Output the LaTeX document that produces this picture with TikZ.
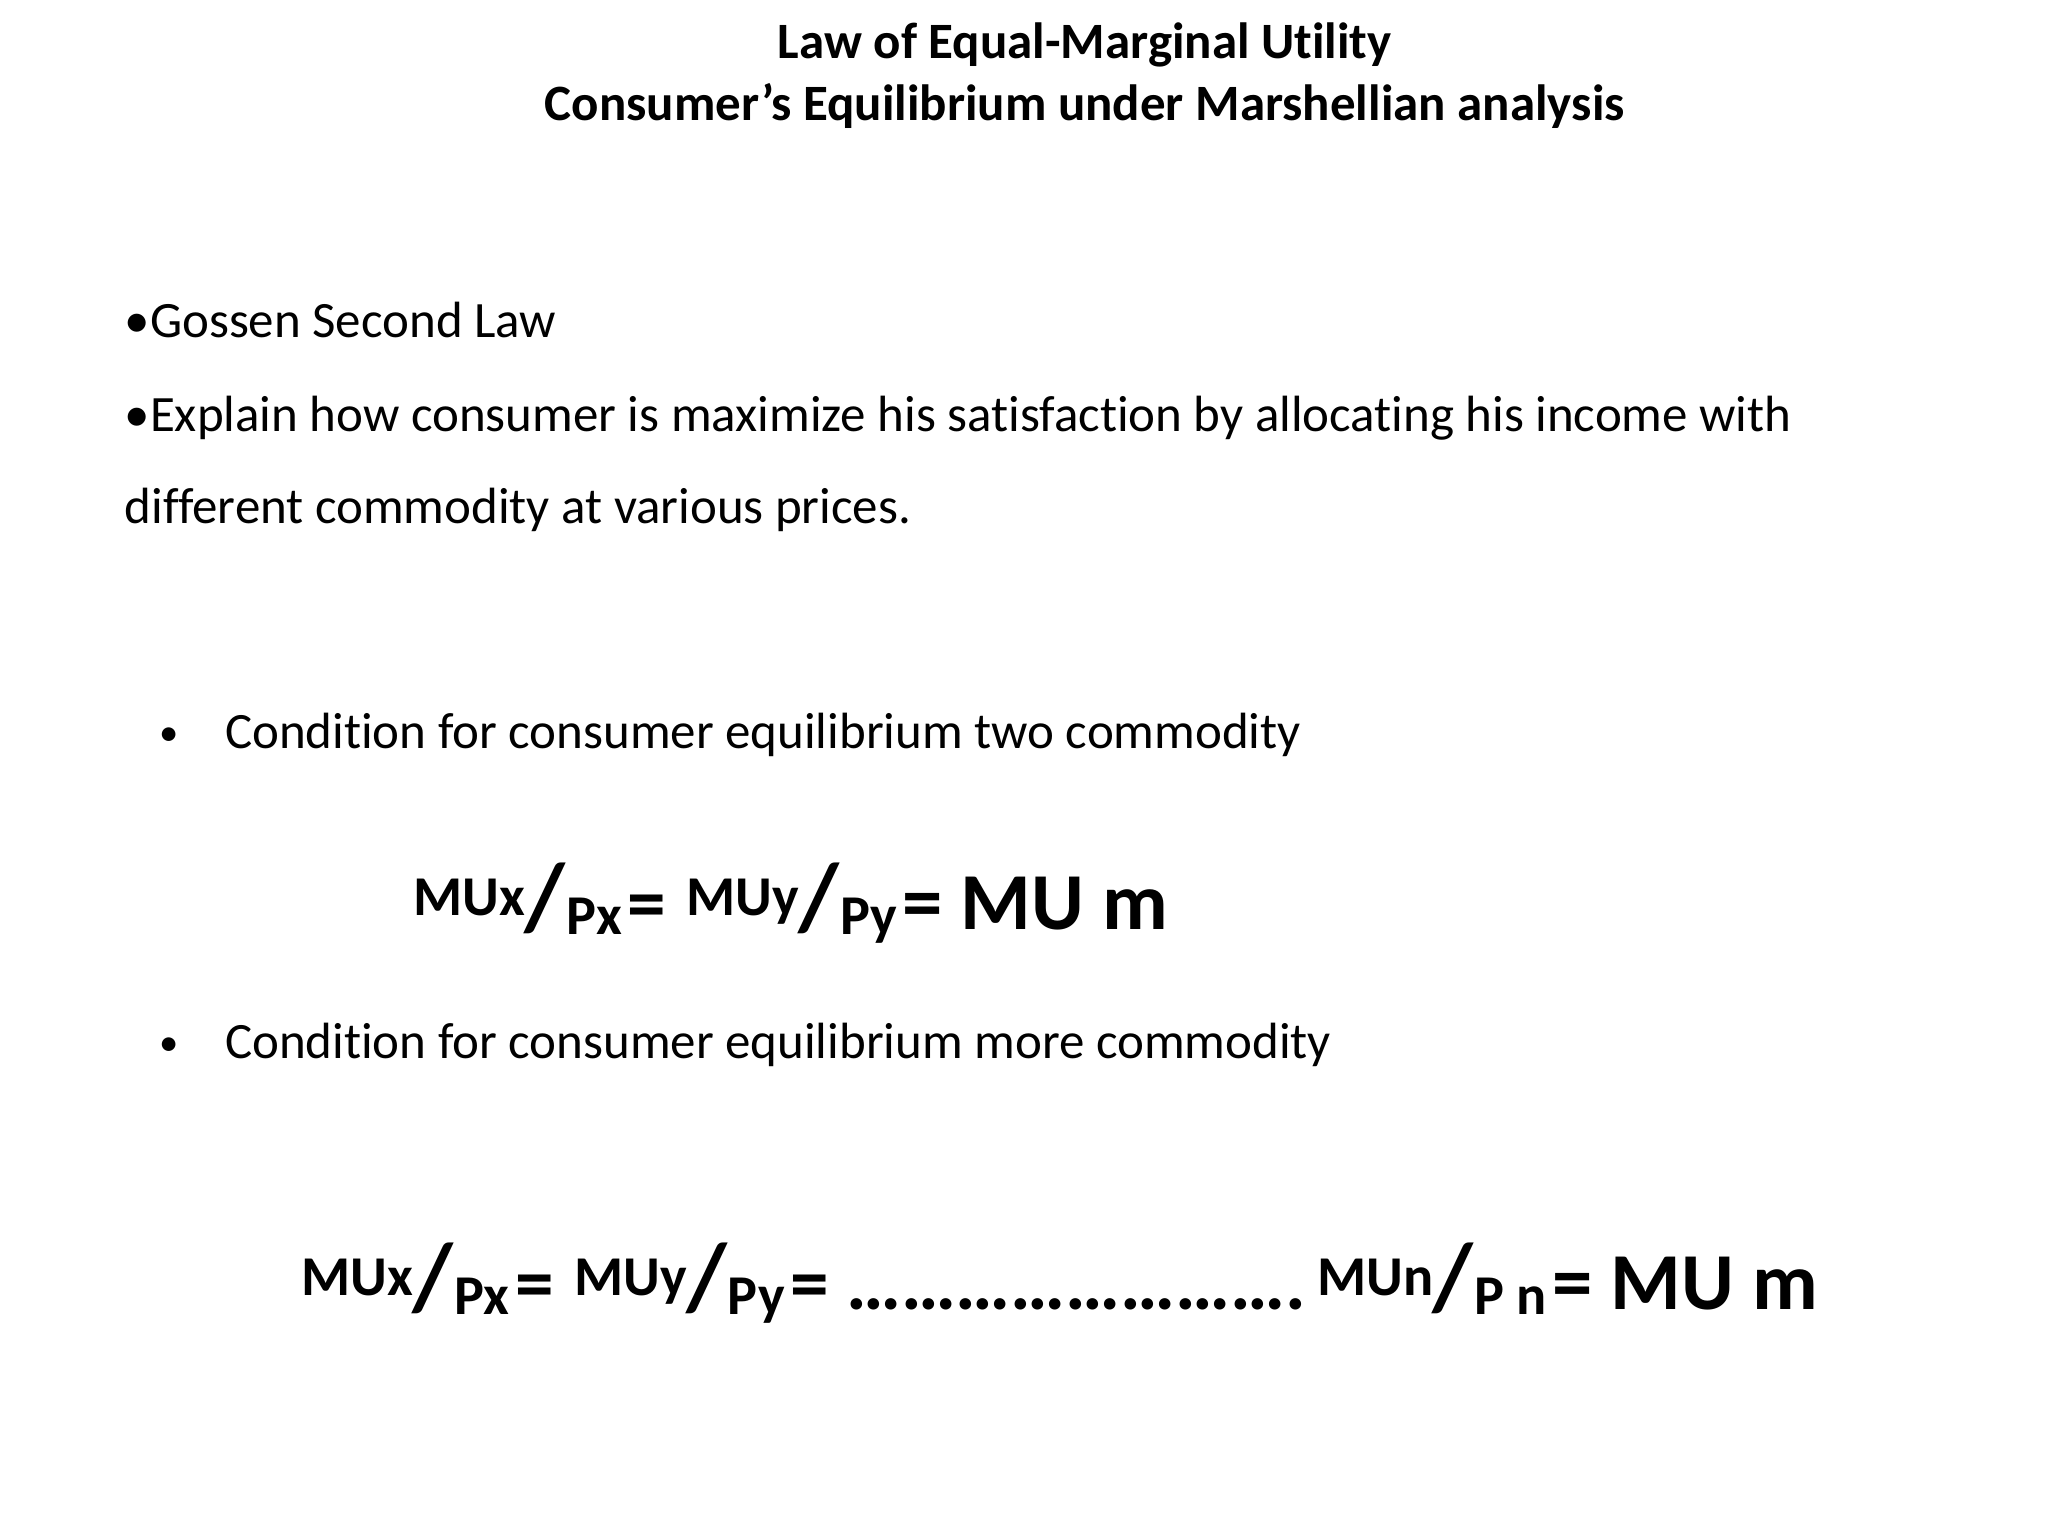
\documentclass[tikz,border=0pt]{standalone}
\usepackage{fontspec}
\setmainfont[Ligatures=NoCommon]{Carlito}
\begin{document}
\begin{tikzpicture}[x=0.013196cm,y=-0.013196cm,
  title/.style={font=\bfseries\fontsize{14.5}{16}\selectfont,anchor=base},
  body/.style={font=\fontsize{14.5}{16}\selectfont,anchor=base west,inner sep=0},
  eq/.style={font=\bfseries,anchor=base west,inner sep=0}]
\useasboundingbox (0,0) rectangle (1552,1164);
\node[title] (t1) at (822,44) {Law of Equal-Marginal Utility};
\node[title] (t2) at (822,91) {Consumer’s Equilibrium under Marshellian analysis};
\node[body] (b1) at (94,256) {•Gossen Second Law};
\node[body] (b2) at (94,327) {•Explain how consumer is maximize his satisfaction by allocating his income with};
\node[body] (b3) at (94,397) {different commodity at various prices.};
\node[body,font=\fontsize{11}{13}\selectfont] (c1) at (120,565) {•};
\node[body] (c1t) at (170,567) {Condition for consumer equilibrium two commodity};
\node[body,font=\fontsize{11}{13}\selectfont] (c2) at (120,800) {•};
\node[body] (c2t) at (170,802) {Condition for consumer equilibrium more commodity};
\newcommand{\frc}[2]{\raisebox{0.8ex}{\fontsize{16}{18}\selectfont #1}\kern-0.02em{\fontsize{27}{30}\selectfont/}\kern0.02em\raisebox{-0.3ex}{\fontsize{16}{18}\selectfont #2}}
\newcommand{\eqs}{{\fontsize{22}{24}\selectfont =}}
\node[eq] (e1) at (313,704) {\frc{MUx}{Px}\kern0.15em\eqs\kern0.6em\frc{MUy}{Py}\kern0.15em{\fontsize{23}{26}\selectfont = MU m}};
\node[eq] (e2) at (228,992) {\frc{MUx}{Px}\kern0.15em\eqs\kern0.6em\frc{MUy}{Py}\kern0.15em{\fontsize{22}{24}\selectfont = …………………….}\kern0.3em\frc{MUn}{P n}\kern0.15em{\fontsize{23}{26}\selectfont = MU m}};
\end{tikzpicture}
\end{document}
